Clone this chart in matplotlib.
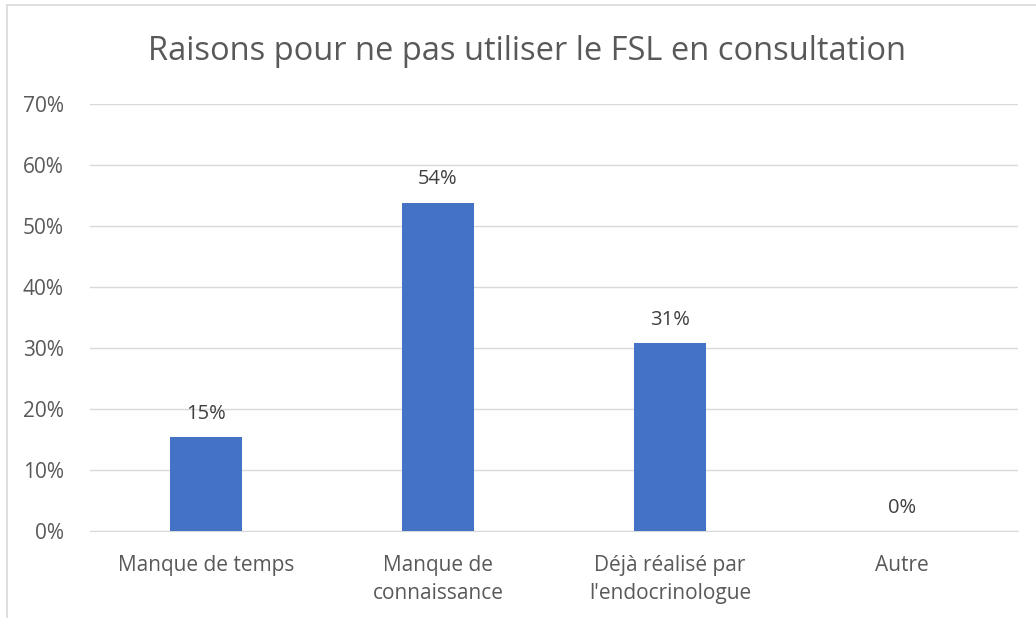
import matplotlib
matplotlib.use("Agg")
import matplotlib.pyplot as plt
from matplotlib.lines import Line2D
from matplotlib.ticker import FuncFormatter, MultipleLocator

categories = ["Manque de temps", "Manque de\nconnaissance",
              "Déjà réalisé par\nl'endocrinologue", "Autre"]
values = [2 / 13, 7 / 13, 4 / 13, 0.0]
labels = ["15%", "54%", "31%", "0%"]

plt.rcParams['font.family'] = ['Open Sans', 'DejaVu Sans']
text_col = "#595959"

fig = plt.figure(figsize=(10.36, 6.18), dpi=100)
ax = fig.add_axes([90 / 1036, 1 - 531 / 618, 928 / 1036, 427 / 618])

x = range(len(categories))
bars = ax.bar(x, values, width=0.31, color="#4472c4", zorder=3)
for b, lab in zip(bars, labels):
    ax.text(b.get_x() + b.get_width() / 2, b.get_height() + 0.022, lab,
            ha="center", va="bottom", fontsize=14.5, color="#404040")

ax.set_xlim(-0.5, len(categories) - 0.5)
ax.set_ylim(0, 0.7)
ax.yaxis.set_major_locator(MultipleLocator(0.1))
ax.yaxis.set_major_formatter(FuncFormatter(lambda v, p: "{:.0f}%".format(v * 100)))
ax.set_xticks(list(x))
ax.set_xticklabels(categories, fontsize=15, color=text_col, linespacing=1.45)
ax.tick_params(axis="y", labelsize=15, labelcolor=text_col, length=0, pad=19)
ax.tick_params(axis="x", length=0, pad=17)
ax.grid(axis="y", color="#d9d9d9", linewidth=1, zorder=0)
for s in ["top", "right", "left"]:
    ax.spines[s].set_visible(False)
ax.spines["bottom"].set_color("#d9d9d9")

fig.text(527 / 1036, 1 - 51 / 618, "Raisons pour ne pas utiliser le FSL en consultation",
         ha="center", va="center", fontsize=23.5, color=text_col)

# chart border (only top and left edges visible)
fig.add_artist(Line2D([7 / 1036, 1.0], [1 - 5 / 618, 1 - 5 / 618],
                      transform=fig.transFigure, color="#d9d9d9", linewidth=1.2))
fig.add_artist(Line2D([7 / 1036, 7 / 1036], [0.0, 1 - 5 / 618],
                      transform=fig.transFigure, color="#d9d9d9", linewidth=1.2))

fig.savefig("out.png", dpi=100)
